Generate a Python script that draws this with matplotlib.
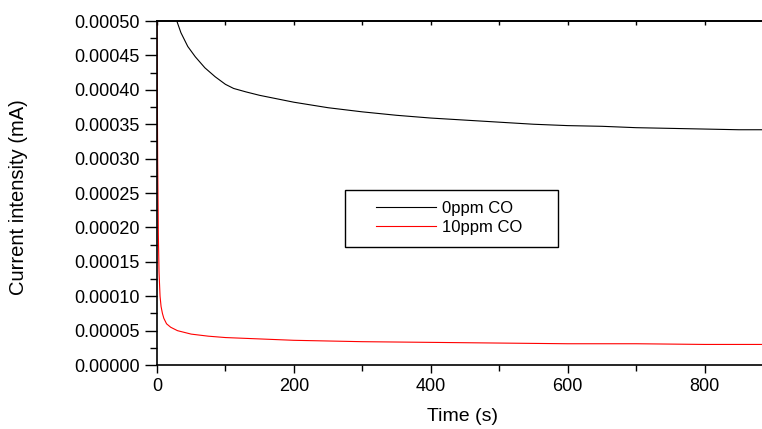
import matplotlib
matplotlib.use('Agg')
import matplotlib.pyplot as plt
from matplotlib.patches import Rectangle
from matplotlib.ticker import MultipleLocator, FormatStrFormatter, NullFormatter

plt.rcParams['font.family'] = ['Liberation Sans', 'DejaVu Sans']

# Datos
t_0ppm = [29, 35, 45, 56, 70, 85, 100, 112, 130, 150, 175, 200, 250, 300, 350, 400,
          450, 500, 550, 600, 650, 700, 750, 800, 850, 886]
i_0ppm = [0.000500, 0.000483, 0.000463, 0.000448, 0.000432, 0.000419, 0.000408,
          0.000402, 0.000397, 0.000392, 0.000387, 0.000382, 0.000374, 0.000368,
          0.000363, 0.000359, 0.000356, 0.000353, 0.000350, 0.000348, 0.000347,
          0.000345, 0.000344, 0.000343, 0.000342, 0.000342]

t_10ppm = [0, 1, 2, 3, 4.5, 6, 8, 10, 14, 20, 30, 50, 75, 100, 150, 200, 300,
           400, 500, 600, 700, 800, 886]
i_10ppm = [0.000500, 0.000300, 0.000190, 0.000135, 0.000100, 0.000085, 0.000075,
           0.000068, 0.000060, 0.000055, 0.000050, 0.000045, 0.000042, 0.000040,
           0.000038, 0.000036, 0.000034, 0.000033, 0.000032, 0.000031, 0.000031,
           0.000030, 0.000030]

fig = plt.figure(figsize=(7.62, 4.29), dpi=100)
ax = fig.add_axes([0.206, 0.149, 0.804, 0.802])

ax.plot(t_0ppm, i_0ppm, color='black', lw=0.8, label='0ppm CO')
ax.plot(t_10ppm, i_10ppm, color='red', lw=0.8, label='10ppm CO')

ax.set_xlim(0, 895)
ax.set_ylim(0, 0.0005)

ax.xaxis.set_major_locator(MultipleLocator(200))
ax.xaxis.set_minor_locator(MultipleLocator(100))
ax.yaxis.set_major_locator(MultipleLocator(0.00005))
ax.yaxis.set_minor_locator(MultipleLocator(0.000025))
ax.yaxis.set_major_formatter(FormatStrFormatter('%.5f'))

# ticks hacia fuera
ax.tick_params(axis='y', which='major', direction='out', length=9, width=1, labelsize=13)
ax.tick_params(axis='y', which='minor', direction='out', length=5, width=1)
ax.tick_params(axis='x', which='major', direction='out', length=6, width=1, labelsize=13)
ax.tick_params(axis='x', which='minor', direction='out', length=4, width=1)

# ticks pequeños arriba, hacia dentro
top = ax.secondary_xaxis('top')
top.xaxis.set_major_locator(MultipleLocator(100))
top.xaxis.set_major_formatter(NullFormatter())
top.tick_params(direction='in', length=3, width=1)
top.spines['top'].set_linewidth(1.2)

ax.spines['right'].set_visible(False)
for s in ['left', 'bottom', 'top']:
    ax.spines[s].set_linewidth(1.2)

ax.set_ylabel('Current intensity (mA)', fontsize=14.5)
ax.yaxis.set_label_coords(-0.211, 0.487)
ax.set_xlabel('Time (s)', fontsize=14)
ax.xaxis.set_label_coords(0.498, -0.125)

# caja de la leyenda
ax.add_patch(Rectangle((0.307, 0.343), 0.348, 0.166, transform=ax.transAxes,
                       fill=False, edgecolor='black', lw=1, zorder=5))
leg = ax.legend(loc='center left', bbox_to_anchor=(0.344, 0.427), fontsize=12,
                frameon=False, handlelength=3.6, borderpad=0,
                labelspacing=0.25, handletextpad=0.35)

plt.savefig('out.png', dpi=100)
